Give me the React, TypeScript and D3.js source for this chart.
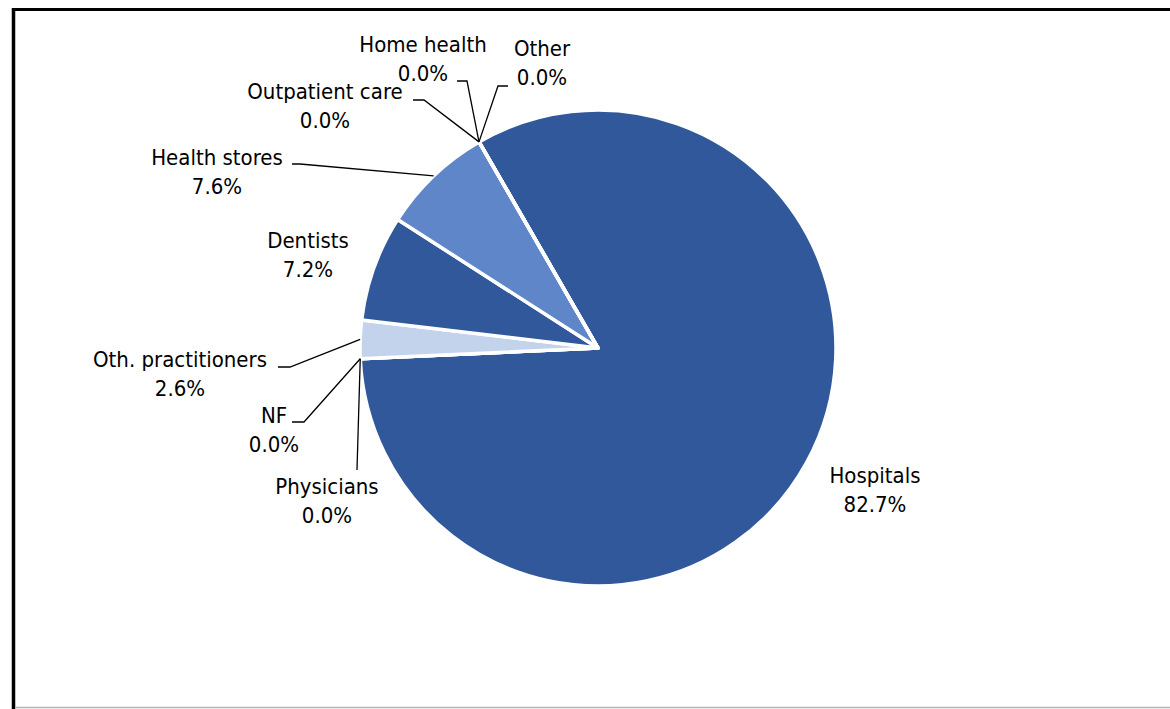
import React, { useRef, useEffect } from 'react';
import * as d3 from 'd3';

// spending shares by provider (percent)
const categories = ['Hospitals', 'Physicians', 'NF', 'Oth. practitioners', 'Dentists', 'Health stores', 'Outpatient care', 'Home health', 'Other'];
const shares = [82.7, 0.0, 0.0, 2.6, 7.2, 7.6, 0.0, 0.0, 0.0];

const sliceColors = ['#30589b', '#30589b', '#30589b', '#c3d3ec', '#30589b', '#5f86c8', '#5f86c8', '#30589b', '#30589b'];

// label centre x, first baseline y, elbow of the leader, end of the leader
const labelLayout: { x: number; y: number; elbow?: [number, number]; end?: [number, number] }[] = [
  { x: 875, y: 483 },
  { x: 327, y: 494, elbow: [357, 470], end: [357, 470] },
  { x: 274, y: 423, elbow: [304, 422], end: [292, 422] },
  { x: 180, y: 367, elbow: [290, 367], end: [278, 367] },
  { x: 308, y: 248 },
  { x: 217, y: 165, elbow: [300, 164], end: [292, 164] },
  { x: 325, y: 99, elbow: [424, 100], end: [413, 100] },
  { x: 423, y: 52, elbow: [467, 81], end: [457, 81] },
  { x: 542, y: 56, elbow: [498, 86], end: [508, 86] },
];

const App = () => {
  const svgRef = useRef<SVGSVGElement>(null);

  useEffect(() => {
    const width = 1170;
    const height = 709;
    const cx = 598;
    const cy = 348;
    const radius = 238;
    const svg = d3.select(svgRef.current)
      .attr('width', width)
      .attr('height', height)
      .style('background', '#fff');
    svg.selectAll('*').remove();

    // chart frame
    svg.append('line').attr('x1', 12).attr('x2', width).attr('y1', 9.5).attr('y2', 9.5)
      .attr('stroke', '#000').attr('stroke-width', 3);
    svg.append('line').attr('x1', 13.5).attr('x2', 13.5).attr('y1', 8).attr('y2', height)
      .attr('stroke', '#000').attr('stroke-width', 3.5);
    svg.append('line').attr('x1', 15).attr('x2', width).attr('y1', 707.5).attr('y2', 707.5)
      .attr('stroke', '#b4b4b4').attr('stroke-width', 1.5);

    const start = -30 * Math.PI / 180;
    const pie = d3.pie<number>()
      .sort(null)
      .value(d => d)
      .startAngle(start)
      .endAngle(start + 2 * Math.PI);
    const arcs = pie(shares);
    const arc = d3.arc<d3.PieArcDatum<number>>().innerRadius(0).outerRadius(radius);
    const edge = d3.arc<d3.PieArcDatum<number>>().innerRadius(radius).outerRadius(radius);

    const g = svg.append('g').attr('transform', `translate(${cx},${cy})`);
    g.selectAll('path.slice')
      .data(arcs)
      .join('path')
        .attr('class', 'slice')
        .attr('d', arc)
        .attr('fill', (d, i) => sliceColors[i])
        .attr('stroke', '#fff')
        .attr('stroke-width', 3.5)
        .attr('stroke-linejoin', 'round');

    // leader lines
    arcs.forEach((d, i) => {
      const lay = labelLayout[i];
      if (!lay.elbow || !lay.end) return;
      const [px, py] = edge.centroid(d);
      const pts: [number, number][] = [[cx + px, cy + py], lay.elbow, lay.end];
      svg.append('path')
        .attr('d', d3.line()(pts))
        .attr('fill', 'none')
        .attr('stroke', '#000')
        .attr('stroke-width', 1.3);
    });

    // data labels
    const labels = svg.selectAll('text.lbl')
      .data(arcs)
      .join('text')
        .attr('class', 'lbl')
        .attr('text-anchor', 'middle')
        .style('font-family', "'DejaVu Sans Condensed', 'DejaVu Sans', sans-serif")
        .style('font-stretch', 'condensed')
        .style('font-size', '22px')
        .attr('fill', '#000');
    labels.append('tspan')
      .attr('x', (d, i) => labelLayout[i].x)
      .attr('y', (d, i) => labelLayout[i].y)
      .text((d, i) => categories[i]);
    labels.append('tspan')
      .attr('x', (d, i) => labelLayout[i].x)
      .attr('y', (d, i) => labelLayout[i].y + 29)
      .text(d => `${d.data.toFixed(1)}%`);
  }, []);

  return (
    <div style={{ position: 'absolute', left: 0, top: 0 }}>
      <svg ref={svgRef} style={{ display: 'block' }}></svg>
    </div>
  );
};

export default App;
